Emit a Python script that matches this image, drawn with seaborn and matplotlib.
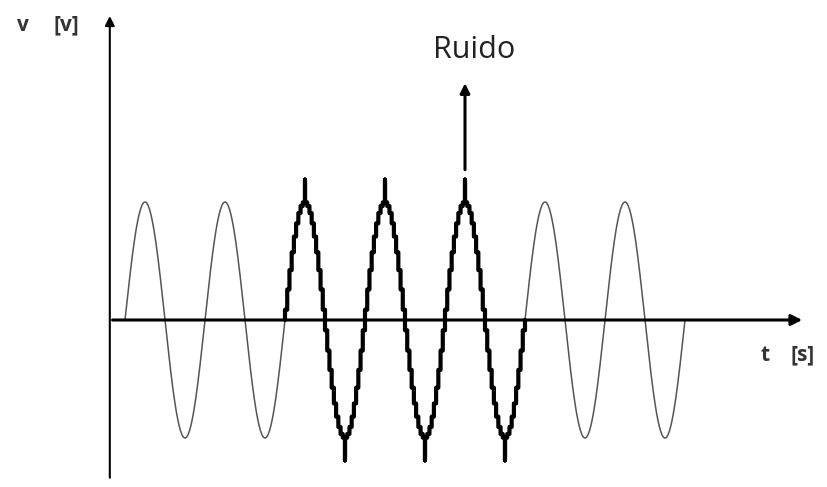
import numpy as np
import pandas as pd
import matplotlib
matplotlib.use('Agg')
import matplotlib.pyplot as plt
import seaborn as sns

# signal parameters (time in periods, voltage in amplitudes)
period = 1.0
amplitude = 1.0
n_cycles = 7
noisy_cycles = [2, 3, 4]          # cycles 3..5 carry the noise
steps_per_period = 36             # staircase resolution of the noisy part
spike_height = 1.19               # spikes at peaks and troughs
ruido_x = 4.25
ruido_arrow = [1.25, 2.03]

sns.set_style('white')
plt.rcParams['font.family'] = ['Open Sans', 'DejaVu Sans']

fig = plt.figure(figsize=(8.27, 4.87), dpi=100)
ax = fig.add_axes([0, 0, 1, 1])

line_kw = dict(estimator=None, errorbar=None, sort=False, ax=ax)

# clean sine, split in the part before and after the noise
t_clean = np.linspace(0, n_cycles * period, 2000)
v_clean = amplitude * np.sin(2 * np.pi * t_clean / period)
clean = pd.DataFrame({'t': t_clean, 'v': v_clean})
before = clean[clean['t'] <= noisy_cycles[0]]
after = clean[clean['t'] >= noisy_cycles[-1] + 1]
sns.lineplot(data=before, x='t', y='v', color='#555555', lw=1.1, **line_kw)
sns.lineplot(data=after, x='t', y='v', color='#555555', lw=1.1, **line_kw)

# noisy part: sample-and-hold staircase plus spikes at the extremes
for c in noisy_cycles:
    tk = c + np.arange(steps_per_period + 1) / steps_per_period
    vk = amplitude * np.sin(2 * np.pi * (tk + 0.5 / steps_per_period) / period)
    ts, vs = [], []
    for i in range(len(tk) - 1):
        ts += [tk[i], tk[i + 1]]
        vs += [vk[i], vk[i]]
    rows = pd.DataFrame({'t': ts, 'v': vs})
    pk = c + 0.25 * period
    tr = c + 0.75 * period
    spikes = pd.DataFrame({'t': [pk, pk, pk, tr, tr, tr],
                           'v': [amplitude, spike_height, amplitude,
                                 -amplitude, -spike_height, -amplitude]})
    rows = pd.concat([rows[rows['t'] <= pk], spikes.iloc[:3],
                      rows[(rows['t'] > pk) & (rows['t'] <= tr)], spikes.iloc[3:],
                      rows[rows['t'] > tr]], ignore_index=True)
    rows = pd.concat([pd.DataFrame({'t': [c], 'v': [0.0]}), rows,
                      pd.DataFrame({'t': [c + period], 'v': [0.0]})], ignore_index=True)
    sns.lineplot(data=rows, x='t', y='v', color='black', lw=3.0, **line_kw)

# axes with arrows
ax.annotate('', xy=(8.5, 0), xytext=(-0.19, 0),
            arrowprops=dict(arrowstyle='-|>', color='black', lw=2.2, mutation_scale=16))
ax.annotate('', xy=(-0.19, 2.6), xytext=(-0.19, -1.36),
            arrowprops=dict(arrowstyle='-|>', color='black', lw=1.5, mutation_scale=14))

# noise arrow and label
ax.annotate('', xy=(ruido_x, ruido_arrow[1]), xytext=(ruido_x, ruido_arrow[0]),
            arrowprops=dict(arrowstyle='-|>', color='black', lw=2.2, mutation_scale=14))
ax.text(4.36, 2.29, 'Ruido', ha='center', va='center', fontsize=22, color='#222222')

lab = dict(fontsize=15, fontweight='bold', color='#333333', ha='center', va='center')
ax.text(-1.28, 2.5, 'v', **lab)
ax.text(-0.73, 2.5, '[v]', **lab)
ax.text(8.0, -0.3, 't', **lab)
ax.text(8.47, -0.3, '[s]', **lab)

ax.set_xlim(-125 / 80, 702 / 80)
ax.set_ylim(-167 / 118, 320 / 118)
ax.axis('off')

fig.savefig('out.png', dpi=100)
